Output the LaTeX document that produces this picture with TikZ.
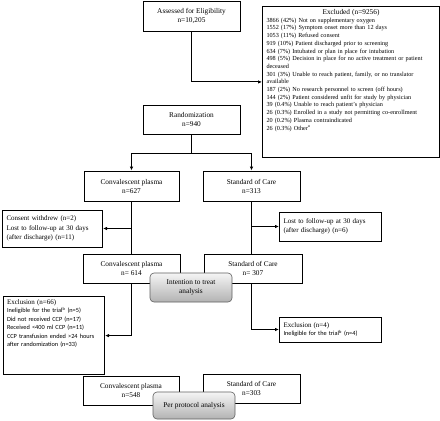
\documentclass[tikz,border=0pt]{standalone}
\usepackage{fontspec}
\setmainfont{Liberation Serif}
\newfontfamily\calfont{Carlito}
\usepackage{tikz}
\usetikzlibrary{arrows.meta,positioning,calc}
\tikzset{
  box/.style={draw,line width=1pt,fill=white,align=center,inner sep=2pt,font=\fontsize{7.3}{9}\selectfont},
  listbox/.style={draw,line width=1pt,fill=white,align=left,inner xsep=4pt,inner ysep=3pt},
  greybox/.style={draw=gray!75!black,line width=0.6pt,rounded corners=4pt,top color=gray!8,bottom color=gray!60,
    align=center,inner sep=2pt,font=\fontsize{7.3}{9}\selectfont},
  arr/.style={line width=1pt,-{Latex[length=4pt,width=3.5pt]}},
  ln/.style={line width=1pt}
}

\begin{document}
\begin{tikzpicture}[x=1pt,y=-1pt]
\useasboundingbox (0,0) rectangle (440,421);
\node[box,minimum width=97pt,minimum height=30pt] (assess) at (191.5,16) {Assessed for Eligibility\\n=10,205};
\node[listbox,anchor=north west,text width=169pt,font=\fontsize{6.2}{7.7}\selectfont] (excl) at (262,6) {%
  {\fontsize{7.3}{9}\selectfont\hspace*{\fill}Excluded (n=9256)\hspace*{\fill}\par}
  3866 (42\%) Not on supplementary oxygen\\
  1552 (17\%) Symptom onset more than 12 days\\
  1053 (11\%) Refused consent\\
  919 (10\%) Patient discharged prior to screening\\
  634 (7\%) Intubated or plan in place for intubation\\
  498 (5\%) Decision in place for no active treatment or patient\\
  deceased\\
  301 (3\%) Unable to reach patient, family, or no translator\\
  available\\
  187 (2\%) No research personnel to screen (off hours)\\
  144 (2\%) Patient considered unfit for study by physician\\
  39 (0.4\%) Unable to reach patient's physician\\
  26 (0.3\%) Enrolled in a study not permitting co-enrollment\\
  20 (0.2\%) Plasma contraindicated\\
  26 (0.3\%) Other\textsuperscript{a}\par\rule{0pt}{22pt}};
\node[box,minimum width=97pt,minimum height=29pt] (rand) at (191.5,119.5) {Randomization\\n=940};
\coordinate (split) at (191.5,153);
\node[box,minimum width=95pt,minimum height=30pt] (cp1) at (131.5,186) {Convalescent plasma\\n=627};
\node[box,minimum width=97pt,minimum height=30pt] (soc1) at (251.5,186) {Standard of Care\\n=313};
\node[listbox,anchor=west,text width=92pt,minimum height=37pt,font=\fontsize{7}{9.2}\selectfont] (lost1) at (2,228.5)
  {Consent withdrew (n=2)\\Lost to follow-up at 30 days\\(after discharge) (n=11)};
\node[listbox,anchor=west,text width=94pt,minimum height=29pt,font=\fontsize{7}{9.2}\selectfont] (lost2) at (279,226.5)
  {Lost to follow-up at 30 days\\(after discharge) (n=6)};
\node[box,minimum width=97pt,minimum height=29pt] (cp2) at (131.5,268.5) {Convalescent plasma\\n= 614};
\node[box,minimum width=98pt,minimum height=29pt] (soc2) at (253,268.5) {Standard of Care\\n= 307};
\node[greybox,minimum width=82pt,minimum height=29pt] (itt) at (191,287.5) {Intention to treat\\analysis};
\node[listbox,anchor=north west,text width=94pt,inner xsep=3.5pt,font=\fontsize{6.3}{8.5}\selectfont] (exc1) at (3,296) {%
  {\fontsize{7}{8.5}\selectfont Exclusion (n=66)}\\
  \calfont Ineligible for the trial\textsuperscript{b} (n=5)\\
  Did not received CCP (n=17)\\
  Received <400 ml CCP (n=11)\\
  CCP transfusion ended >24 hours\\
  after randomization (n=33)\par\rule{0pt}{23pt}};
\node[listbox,anchor=west,text width=94pt,minimum height=25pt,font=\fontsize{6.3}{8.4}\selectfont] (exc2) at (279,329.5) {%
  {\fontsize{7}{8.4}\selectfont Exclusion (n=4)}\\
  \calfont Ineligible for the trial\textsuperscript{b} (n=4)};
\node[box,minimum width=96pt,minimum height=29pt] (cp3) at (131,390.5) {Convalescent plasma\\n=548};
\node[box,minimum width=97pt,minimum height=29pt] (soc3) at (251.5,388.5) {Standard of Care\\n=303};
\node[greybox,minimum width=82pt,minimum height=27pt] (pp) at (194,405.5) {Per protocol analysis};
\draw[arr] (assess.south) |- (excl.west);
\draw[ln] (rand.south) -- (split);
\draw[arr] (split) -| (cp1.north);
\draw[arr] (split) -| (soc1.north);
\draw[ln] (cp1.south) -- (cp1.south |- cp2.north);
\draw[arr] (cp1.south |- lost1.east) -- (lost1.east);
\draw[ln] (soc1.south) -- (soc1.south |- soc2.north);
\draw[arr] (soc1.south |- lost2.west) -- (lost2.west);
\draw[arr] (cp1.south |- cp2.south) |- (exc1.east);
\draw[arr] (soc1.south |- soc2.south) |- (exc2.west);
\end{tikzpicture}
\end{document}
